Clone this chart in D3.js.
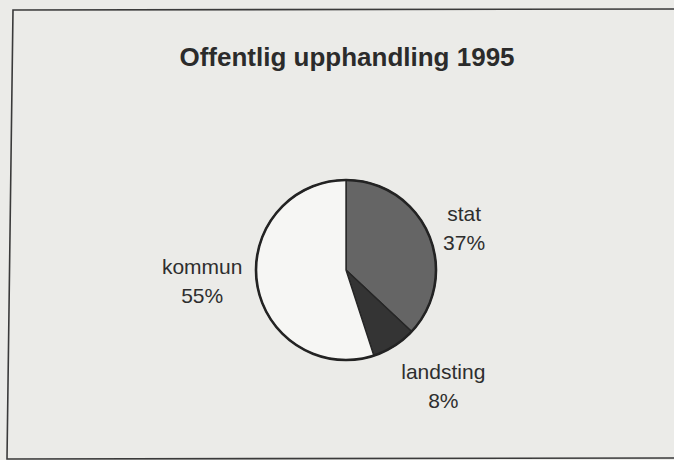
<!DOCTYPE html>
<html>
<head>
<meta charset="utf-8">
<script src="https://cdn.jsdelivr.net/npm/d3@7"></script>
<style>
  html, body { margin: 0; padding: 0; background: #ebebe8; }
  svg { display: block; }
</style>
</head>
<body>
<svg id="chart" width="674" height="460"></svg>
<script>
// ---- data ----
const title = "Offentlig upphandling 1995";
const categories = ["stat", "landsting", "kommun"];
const values = [37, 8, 55];
const valueLabels = ["37%", "8%", "55%"];

// ---- styles / layout ----
const fills = ["#656565", "#343434", "#f6f6f4"];
const W = 674, H = 460;
const cx = 346, cy = 270, R = 90;
// label anchors as (angle deg clockwise from 12 o'clock, radius)
const labelAnchors = [[73.7, 123], [141.7, 157], [262.7, 145]];

const svg = d3.select("#chart");

// background + frame (scanned page, slightly skewed)
svg.append("rect").attr("width", W).attr("height", H).attr("fill", "#ebebe8");
svg.append("path")
  .attr("d", "M676,9 L13,10 L7,459 L676,458")
  .attr("fill", "none").attr("stroke", "#3a3a3a").attr("stroke-width", 1.6);

// title
svg.append("text")
  .attr("x", 347).attr("y", 66)
  .attr("text-anchor", "middle")
  .attr("font-family", "'Liberation Sans', Arial, sans-serif")
  .attr("font-weight", "bold").attr("font-size", 26)
  .attr("fill", "#2b2b2b")
  .text(title);

const data = categories.map((c, i) => ({ name: c, value: values[i], label: valueLabels[i], i }));

const pie = d3.pie().sort(null).value(d => d.value);
const arc = d3.arc().innerRadius(0).outerRadius(R);
const arcs = pie(data);

const g = svg.append("g").attr("transform", `translate(${cx},${cy})`);

g.selectAll("path.slice")
  .data(arcs)
  .join("path")
  .attr("class", "slice")
  .attr("d", arc)
  .attr("fill", d => fills[d.data.i])
  .attr("stroke", "#262626")
  .attr("stroke-width", 1.4)
  .attr("stroke-linejoin", "round");

// outer outline
g.append("circle").attr("r", R).attr("fill", "none")
  .attr("stroke", "#232323").attr("stroke-width", 2.6);

// labels
const lbl = g.selectAll("g.lbl")
  .data(arcs)
  .join("g")
  .attr("class", "lbl")
  .attr("transform", d => {
    const [a, r] = labelAnchors[d.data.i];
    const t = a * Math.PI / 180;
    return `translate(${r * Math.sin(t)},${-r * Math.cos(t)})`;
  });

lbl.append("text")
  .attr("y", -14)
  .attr("text-anchor", "middle")
  .attr("font-family", "'Liberation Sans', Arial, sans-serif")
  .attr("font-size", 21).attr("fill", "#2e2e2e")
  .text(d => d.data.name);

lbl.append("text")
  .attr("y", 15)
  .attr("text-anchor", "middle")
  .attr("font-family", "'Liberation Sans', Arial, sans-serif")
  .attr("font-size", 21).attr("fill", "#2e2e2e")
  .text(d => d.data.label);
</script>
</body>
</html>
